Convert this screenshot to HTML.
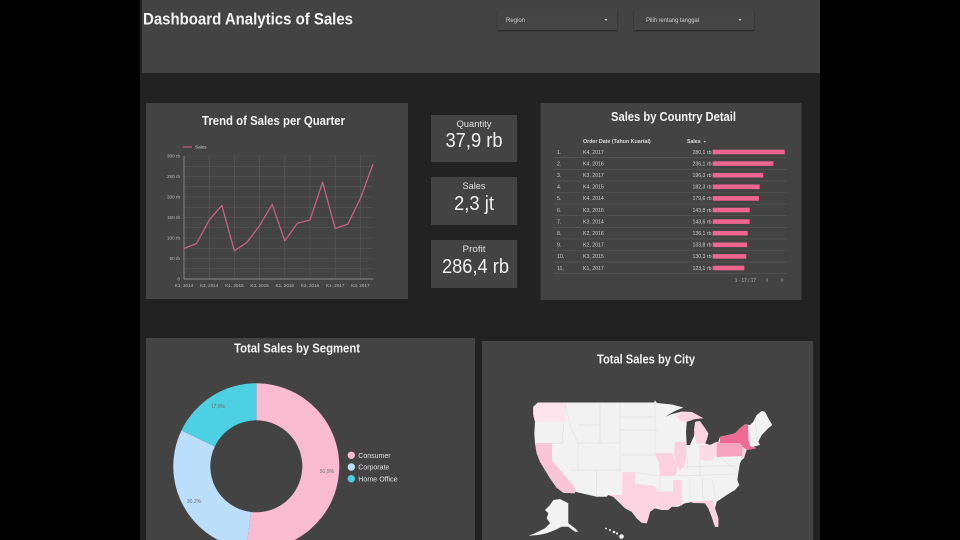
<!DOCTYPE html>
<html><head><meta charset="utf-8"><style>
html,body{margin:0;padding:0;background:#000;}
svg{display:block;}
text{font-family:"Liberation Sans",sans-serif;}
</style></head><body>
<svg width="960" height="540" viewBox="0 0 960 540" xmlns="http://www.w3.org/2000/svg">
<defs>
<filter id="sh" x="-10%" y="-30%" width="120%" height="180%"><feDropShadow dx="0" dy="1" stdDeviation="0.8" flood-color="#000" flood-opacity="0.5"/></filter>
<clipPath id="cd"><rect x="146" y="338" width="329" height="202"/></clipPath>
</defs>
<rect width="960" height="540" fill="#000"/>
<rect x="140" y="0" width="680" height="540" fill="#222"/>
<!-- header -->
<rect x="142" y="0" width="678" height="73" fill="#434343"/>
<text x="143" y="24.5" font-size="17" font-weight="bold" fill="#f2f2f2" textLength="210" lengthAdjust="spacingAndGlyphs">Dashboard Analytics of Sales</text>
<rect x="497.5" y="10" width="119.5" height="20" fill="#454545" filter="url(#sh)"/>
<text x="506" y="22" font-size="6" fill="#cfcfcf">Region</text>
<path d="M604.5,19 L607.5,19 L606,21 Z" fill="#cfcfcf"/>
<rect x="634" y="10" width="120" height="20" fill="#454545" filter="url(#sh)"/>
<text x="646" y="22" font-size="6" fill="#cfcfcf" textLength="53" lengthAdjust="spacingAndGlyphs">Pilih rentang tanggal</text>
<path d="M738.5,19 L741.5,19 L740,21 Z" fill="#cfcfcf"/>

<!-- trend card -->
<rect x="146" y="103" width="262" height="196" fill="#434343"/>
<text x="273.5" y="125" font-size="12.5" font-weight="bold" fill="#f2f2f2" text-anchor="middle" textLength="143" lengthAdjust="spacingAndGlyphs">Trend of Sales per Quarter</text>
<line x1="183" y1="147" x2="192" y2="147" stroke="#c4637f" stroke-width="1.2"/>
<text x="195" y="148.7" font-size="4.6" fill="#cfcfcf">Sales</text>
<g stroke="#595959" stroke-width="0.6">
<line x1="184" y1="156" x2="373" y2="156"/><line x1="184" y1="166.25" x2="373" y2="166.25"/><line x1="184" y1="176.5" x2="373" y2="176.5"/><line x1="184" y1="186.75" x2="373" y2="186.75"/><line x1="184" y1="197" x2="373" y2="197"/><line x1="184" y1="207.25" x2="373" y2="207.25"/><line x1="184" y1="217.5" x2="373" y2="217.5"/><line x1="184" y1="227.75" x2="373" y2="227.75"/><line x1="184" y1="238" x2="373" y2="238"/><line x1="184" y1="248.25" x2="373" y2="248.25"/><line x1="184" y1="258.5" x2="373" y2="258.5"/><line x1="184" y1="268.75" x2="373" y2="268.75"/>
<line x1="209.2" y1="156" x2="209.2" y2="279"/><line x1="234.4" y1="156" x2="234.4" y2="279"/><line x1="259.6" y1="156" x2="259.6" y2="279"/><line x1="284.8" y1="156" x2="284.8" y2="279"/><line x1="310" y1="156" x2="310" y2="279"/><line x1="335.2" y1="156" x2="335.2" y2="279"/><line x1="360.4" y1="156" x2="360.4" y2="279"/>
</g>
<line x1="184" y1="156" x2="184" y2="279.3" stroke="#a0a0a0" stroke-width="0.7"/>
<line x1="184" y1="279" x2="373.5" y2="279" stroke="#a0a0a0" stroke-width="0.7"/>
<g font-size="4.6" fill="#bdbdbd" text-anchor="end">
<text x="180" y="157.6">300 rb</text><text x="180" y="178.1">250 rb</text><text x="180" y="198.6">200 rb</text><text x="180" y="219.1">150 rb</text><text x="180" y="239.6">100 rb</text><text x="180" y="260.1">50 rb</text><text x="180" y="280.6">0</text>
</g>
<g font-size="4.6" fill="#bdbdbd" text-anchor="middle">
<text x="184" y="287">K1, 2014</text><text x="209.2" y="287">K3, 2014</text><text x="234.4" y="287">K1, 2015</text><text x="259.6" y="287">K3, 2015</text><text x="284.8" y="287">K1, 2016</text><text x="310" y="287">K3, 2016</text><text x="335.2" y="287">K1, 2017</text><text x="360.4" y="287">K3, 2017</text>
</g>
<polyline fill="none" stroke="#c4637f" stroke-width="1.3" stroke-linejoin="round" points="184,248.5 196.6,243.5 209.2,220.1 221.8,205.4 234.4,250.9 247,242.3 259.6,225.6 272.2,204.3 284.8,240.9 297.4,223.2 310,220 322.6,182.2 335.2,228.5 347.8,224.1 360.4,198.5 373,164.2"/>

<!-- KPI cards -->
<rect x="431" y="115" width="86" height="47" fill="#434343"/>
<text x="474" y="127" font-size="9" fill="#e0e0e0" text-anchor="middle" textLength="35" lengthAdjust="spacingAndGlyphs">Quantity</text>
<text x="474" y="147" font-size="20" fill="#f0f0f0" text-anchor="middle" textLength="57" lengthAdjust="spacingAndGlyphs">37,9 rb</text>
<rect x="431" y="177" width="86" height="48" fill="#434343"/>
<text x="474" y="189" font-size="9" fill="#e0e0e0" text-anchor="middle" textLength="23" lengthAdjust="spacingAndGlyphs">Sales</text>
<text x="474" y="210" font-size="20" fill="#f0f0f0" text-anchor="middle" textLength="40" lengthAdjust="spacingAndGlyphs">2,3 jt</text>
<rect x="431" y="240" width="86" height="48" fill="#434343"/>
<text x="474" y="252" font-size="9" fill="#e0e0e0" text-anchor="middle" textLength="23" lengthAdjust="spacingAndGlyphs">Profit</text>
<text x="475.5" y="273" font-size="20" fill="#f0f0f0" text-anchor="middle" textLength="67" lengthAdjust="spacingAndGlyphs">286,4 rb</text>

<!-- table card -->
<rect x="540.5" y="103" width="261" height="197" fill="#434343"/>
<text x="673.5" y="121" font-size="12.5" font-weight="bold" fill="#f2f2f2" text-anchor="middle" textLength="125" lengthAdjust="spacingAndGlyphs">Sales by Country Detail</text>
<text x="583" y="143" font-size="5.2" font-weight="bold" fill="#dcdcdc" textLength="67.7" lengthAdjust="spacingAndGlyphs">Order Date (Tahun Kuartal)</text>
<text x="687" y="143" font-size="5.2" font-weight="bold" fill="#dcdcdc" textLength="13.7" lengthAdjust="spacingAndGlyphs">Sales</text>
<path d="M703.5,141 L706,141 L704.75,142.5 Z" fill="#dcdcdc"/>
<g stroke="#585858" stroke-width="0.6">
<line x1="554" y1="157.7" x2="787" y2="157.7"/><line x1="554" y1="169.3" x2="787" y2="169.3"/><line x1="554" y1="180.9" x2="787" y2="180.9"/><line x1="554" y1="192.5" x2="787" y2="192.5"/><line x1="554" y1="204.1" x2="787" y2="204.1"/><line x1="554" y1="215.7" x2="787" y2="215.7"/><line x1="554" y1="227.3" x2="787" y2="227.3"/><line x1="554" y1="238.9" x2="787" y2="238.9"/><line x1="554" y1="250.5" x2="787" y2="250.5"/><line x1="554" y1="262.1" x2="787" y2="262.1"/><line x1="554" y1="273.7" x2="787" y2="273.7"/>
</g>
<g font-size="5.2" fill="#cfcfcf">
<text x="557" y="153.8">1.</text><text x="557" y="165.4">2.</text><text x="557" y="177">3.</text><text x="557" y="188.6">4.</text><text x="557" y="200.2">5.</text><text x="557" y="211.8">6.</text><text x="557" y="223.4">7.</text><text x="557" y="235">8.</text><text x="557" y="246.6">9.</text><text x="557" y="258.2">10.</text><text x="557" y="269.8">11.</text>
<text x="583" y="153.8">K4, 2017</text><text x="583" y="165.4">K4, 2016</text><text x="583" y="177">K3, 2017</text><text x="583" y="188.6">K4, 2015</text><text x="583" y="200.2">K4, 2014</text><text x="583" y="211.8">K3, 2016</text><text x="583" y="223.4">K3, 2014</text><text x="583" y="235">K2, 2016</text><text x="583" y="246.6">K2, 2017</text><text x="583" y="258.2">K3, 2015</text><text x="583" y="269.8">K1, 2017</text>
</g>
<g font-size="5.2" fill="#cfcfcf" text-anchor="end">
<text x="711.5" y="153.8">280,1 rb</text><text x="711.5" y="165.4">236,1 rb</text><text x="711.5" y="177">196,3 rb</text><text x="711.5" y="188.6">182,3 rb</text><text x="711.5" y="200.2">179,6 rb</text><text x="711.5" y="211.8">143,8 rb</text><text x="711.5" y="223.4">143,6 rb</text><text x="711.5" y="235">136,1 rb</text><text x="711.5" y="246.6">133,8 rb</text><text x="711.5" y="258.2">130,3 rb</text><text x="711.5" y="269.8">123,1 rb</text>
</g>
<g fill="#ee6590">
<rect x="712.7" y="149.7" width="72" height="4.6"/><rect x="712.7" y="161.3" width="60.7" height="4.6"/><rect x="712.7" y="172.9" width="50.5" height="4.6"/><rect x="712.7" y="184.5" width="46.9" height="4.6"/><rect x="712.7" y="196.1" width="46.2" height="4.6"/><rect x="712.7" y="207.7" width="37" height="4.6"/><rect x="712.7" y="219.3" width="36.9" height="4.6"/><rect x="712.7" y="230.9" width="35" height="4.6"/><rect x="712.7" y="242.5" width="34.4" height="4.6"/><rect x="712.7" y="254.1" width="33.5" height="4.6"/><rect x="712.7" y="265.7" width="31.6" height="4.6"/>
</g>
<text x="734.7" y="282" font-size="5" fill="#bdbdbd" textLength="21.3" lengthAdjust="spacingAndGlyphs">1 - 17 / 17</text>
<path d="M768,278.3 L766.3,280 L768,281.7" fill="none" stroke="#9a9a9a" stroke-width="0.6"/>
<path d="M781,278.3 L782.7,280 L781,281.7" fill="none" stroke="#9a9a9a" stroke-width="0.6"/>

<!-- donut card -->
<rect x="146" y="338" width="329" height="202" fill="#434343"/>
<text x="297" y="352.7" font-size="12.5" font-weight="bold" fill="#f2f2f2" text-anchor="middle" textLength="126" lengthAdjust="spacingAndGlyphs">Total Sales by Segment</text>
<g clip-path="url(#cd)">
<path d="M256.3,383.3 A83,83 0 1 1 246.415,548.71 L250.82,511.97 A46,46 0 1 0 256.3,420.3 Z" fill="#f8bbd0"/>
<path d="M246.415,548.71 A83,83 0 0 1 181.42,430.49 L214.8,446.45 A46,46 0 0 0 250.82,511.97 Z" fill="#bbdefb"/>
<path d="M181.42,430.49 A83,83 0 0 1 256.3,383.3 L256.3,420.3 A46,46 0 0 0 214.8,446.45 Z" fill="#4dd0e1"/>
</g>
<g font-size="5" fill="#6d6d6d" text-anchor="middle">
<text x="327" y="472.8">51,9%</text><text x="194" y="502.8">30,2%</text><text x="218" y="407.8">17,8%</text>
</g>
<circle cx="351.3" cy="455.3" r="3.7" fill="#f8bbd0"/>
<circle cx="351.3" cy="467" r="3.7" fill="#bbdefb"/>
<circle cx="351.3" cy="478.7" r="3.7" fill="#4dd0e1"/>
<g font-size="7.3" fill="#e0e0e0">
<text x="358.3" y="458" textLength="32.3" lengthAdjust="spacingAndGlyphs">Consumer</text>
<text x="358.3" y="469.7" textLength="31" lengthAdjust="spacingAndGlyphs">Corporate</text>
<text x="358.3" y="481.4" textLength="39.3" lengthAdjust="spacingAndGlyphs">Home Office</text>
</g>

<!-- map card -->
<rect x="482" y="341" width="331" height="199" fill="#434343"/>
<text x="646" y="363.5" font-size="12.5" font-weight="bold" fill="#f2f2f2" text-anchor="middle" textLength="98" lengthAdjust="spacingAndGlyphs">Total Sales by City</text>
<!-- contiguous US -->
<path fill="#f2f2f2" d="M533.3,406.7 L538,402.5 L654,402.5 L655,400.5 L657,403 L672,404.5 L683.3,407.5 L675,411 L665,416.7 L672,414 L682,411.5 L692,412 L703.3,418.3 L695,419 L686.7,421.7 L686,432 L686.7,445 L690,445 L694,436 L695,428.3 L696.7,421 L701,423 L705,428.3 L708.3,433.3 L706.7,440 L705,443.3 L710,445 L718.3,441.7 L720,436.7 L728.3,435 L735,433.3 L740,428.3 L745,424.3 L750,425 L753.3,421.7 L756.7,415 L761.7,411 L765,411.7 L768.3,418.3 L772.3,425 L768.3,428.3 L761.7,435 L758.3,441.7 L760,445 L753.3,446.7 L756.7,448.3 L746.7,450 L743.3,451.7 L744,458.3 L741.7,460 L740,463.3 L738.3,473.3 L737.3,480 L739.3,485 L735,490 L726.7,495 L716.7,501.7 L715,508.3 L718.3,518.3 L718.3,526.7 L715,526.7 L711.7,516.7 L708.3,508.3 L705,503.3 L693.3,501.7 L685,503.3 L678.3,506.7 L671.7,506.7 L668.3,510 L661.7,510 L655,508.3 L650,511.7 L648.3,518.3 L646.7,523.3 L641.7,522.7 L636.7,518.3 L631.7,511.7 L625,508.3 L620,503.3 L613.3,496.7 L608.3,495 L606.7,496.7 L596.7,496.7 L575,491.7 L575,493.3 L563.3,492.7 L556.7,487.7 L550,478.3 L545,470 L540,461.7 L536.7,453.3 L535,443.3 L534.3,433.3 L535,421.7 L533.3,415 Z"/>
<!-- faint state borders -->
<g stroke="#dcdcdc" stroke-width="0.5" fill="none">
<path d="M565,402.5 L565,421.7 L535,421.7"/><path d="M564,421.7 L562,443.3 L535,443.3"/><path d="M551.7,443.3 L551.7,460 L575,488"/>
<path d="M565,402.5 L570,425 L578,443 L578,470"/><path d="M578,425 L600,425 L600,443 L620,443"/><path d="M578,443 L600,443"/>
<path d="M600,402.5 L600,425"/><path d="M620,402.5 L620,472.3"/><path d="M570,470 L622,470"/><path d="M596.7,470 L596.7,496.7"/>
<path d="M620,417 L655,417"/><path d="M620,430 L658,430"/><path d="M622,455 L655,455"/><path d="M635,472.3 L660,476"/>
<path d="M655,402.5 L655,455"/><path d="M660,476 L660,492"/><path d="M686,467 L710,466 L737,466"/><path d="M676,476 L735,474"/>
<path d="M686,445 L688,470"/><path d="M700,445 L700,478"/><path d="M690,478 L690,502"/><path d="M702,478 L703,502"/><path d="M712,480 L716,501"/>
<path d="M716.7,455 L730,465 L738,470"/><path d="M748,425 L750,444"/><path d="M755,418 L757,440"/><path d="M748,438 L760,438"/>
</g>
<!-- colored states -->
<path fill="#fde3ec" d="M533.3,406.7 L538,402.5 L565,402.5 L565,421.7 L535,421.7 L533.3,415 Z"/>
<path fill="#f9c4d6" d="M535,443.3 L551.7,443.3 L551.7,460 L575,488 L575,493.3 L563.3,492.7 L556.7,487.7 L550,478.3 L545,470 L540,461.7 L536.7,453.3 Z"/>
<path fill="#fbd3e1" d="M622.3,472.3 L635,472.3 L635,483.3 L645,485 L655,486 L657,490 L657.5,505 L655,508.3 L650,511.7 L648.3,518.3 L646.7,523.3 L641.7,522.7 L636.7,518.3 L631.7,511.7 L625,508.3 L620,503.3 L613.3,496.7 L608.3,495 L622.3,495 Z"/>
<path fill="#fbd3e1" d="M658,491.7 L673,491.7 L673,497 L676,505 L671.7,506.7 L668.3,510 L661.7,510 L657.5,507 L657.5,495 Z"/>
<path fill="#fbd3e1" d="M673,480 L681.7,480 L682,505.5 L676,505 L673,497 Z"/>
<path fill="#fbd0df" d="M690,501.5 L705,501 L713,500.5 L715,508.3 L718.3,518.3 L718.3,526.7 L715,526.7 L711.7,516.7 L708.3,508.3 L705,503.3 L693.3,503 Z"/>
<path fill="#fbd0df" d="M655,453 L672,453 L674,458 L677,466 L676.7,473 L675,476 L660,476 L659,462 L656,457 Z"/>
<path fill="#fbd0df" d="M675,441.7 L685,441.7 L686,445 L686,460 L684,467 L680,470 L677,466 L674,455 Z"/>
<path fill="#fbd3e1" d="M695,422 L700,421 L705,428.3 L708.3,433.3 L706.7,440 L705,443.3 L697,443.7 L695,438 L694,430 Z"/>
<path fill="#fbd3e1" d="M676.7,416 L682,412 L692,412.5 L703.3,418.3 L695,419 L686.7,421.7 L680,421 Z"/>
<path fill="#fcdbe6" d="M700,445 L710,445 L716.7,441.7 L716.7,455 L713,460 L705,461 L700,459 Z"/>
<path fill="#f5a3bf" d="M716.7,443.3 L720,441 L720,443 L740,443 L743,447 L742,456 L716.7,457 Z"/>
<path fill="#ee6a94" d="M720,441 L720,436.7 L728.3,435 L735,433.3 L740,428.3 L745,424.3 L748,425 L748.5,440 L750,446 L756.7,448.3 L746.7,450 L743,447 L740,443 L720,443 Z"/>
<path fill="#fbd3e1" d="M743,447 L746.7,450 L744,458.3 L742,458 L742,452 Z"/>
<!-- Alaska -->
<path fill="#f2f2f2" d="M553.3,500 L560,499 L568.3,503.3 L568.3,523.3 L575,528.3 L578.3,531.7 L575,531.7 L568.3,526.7 L561.7,526.7 L555,530 L546.7,533.3 L538.3,535 L528.3,535.7 L535,533.3 L545,528.3 L550,523.3 L546.7,518.3 L548.3,513.3 L545,510 L550,505 Z"/>
<!-- Hawaii -->
<g fill="#f2f2f2"><circle cx="606" cy="528.5" r="0.9"/><circle cx="610" cy="530" r="1"/><circle cx="614" cy="532" r="1.3"/><circle cx="617" cy="533.5" r="1.1"/><circle cx="621.5" cy="536.5" r="2.3"/></g>
</svg>
</body></html>
